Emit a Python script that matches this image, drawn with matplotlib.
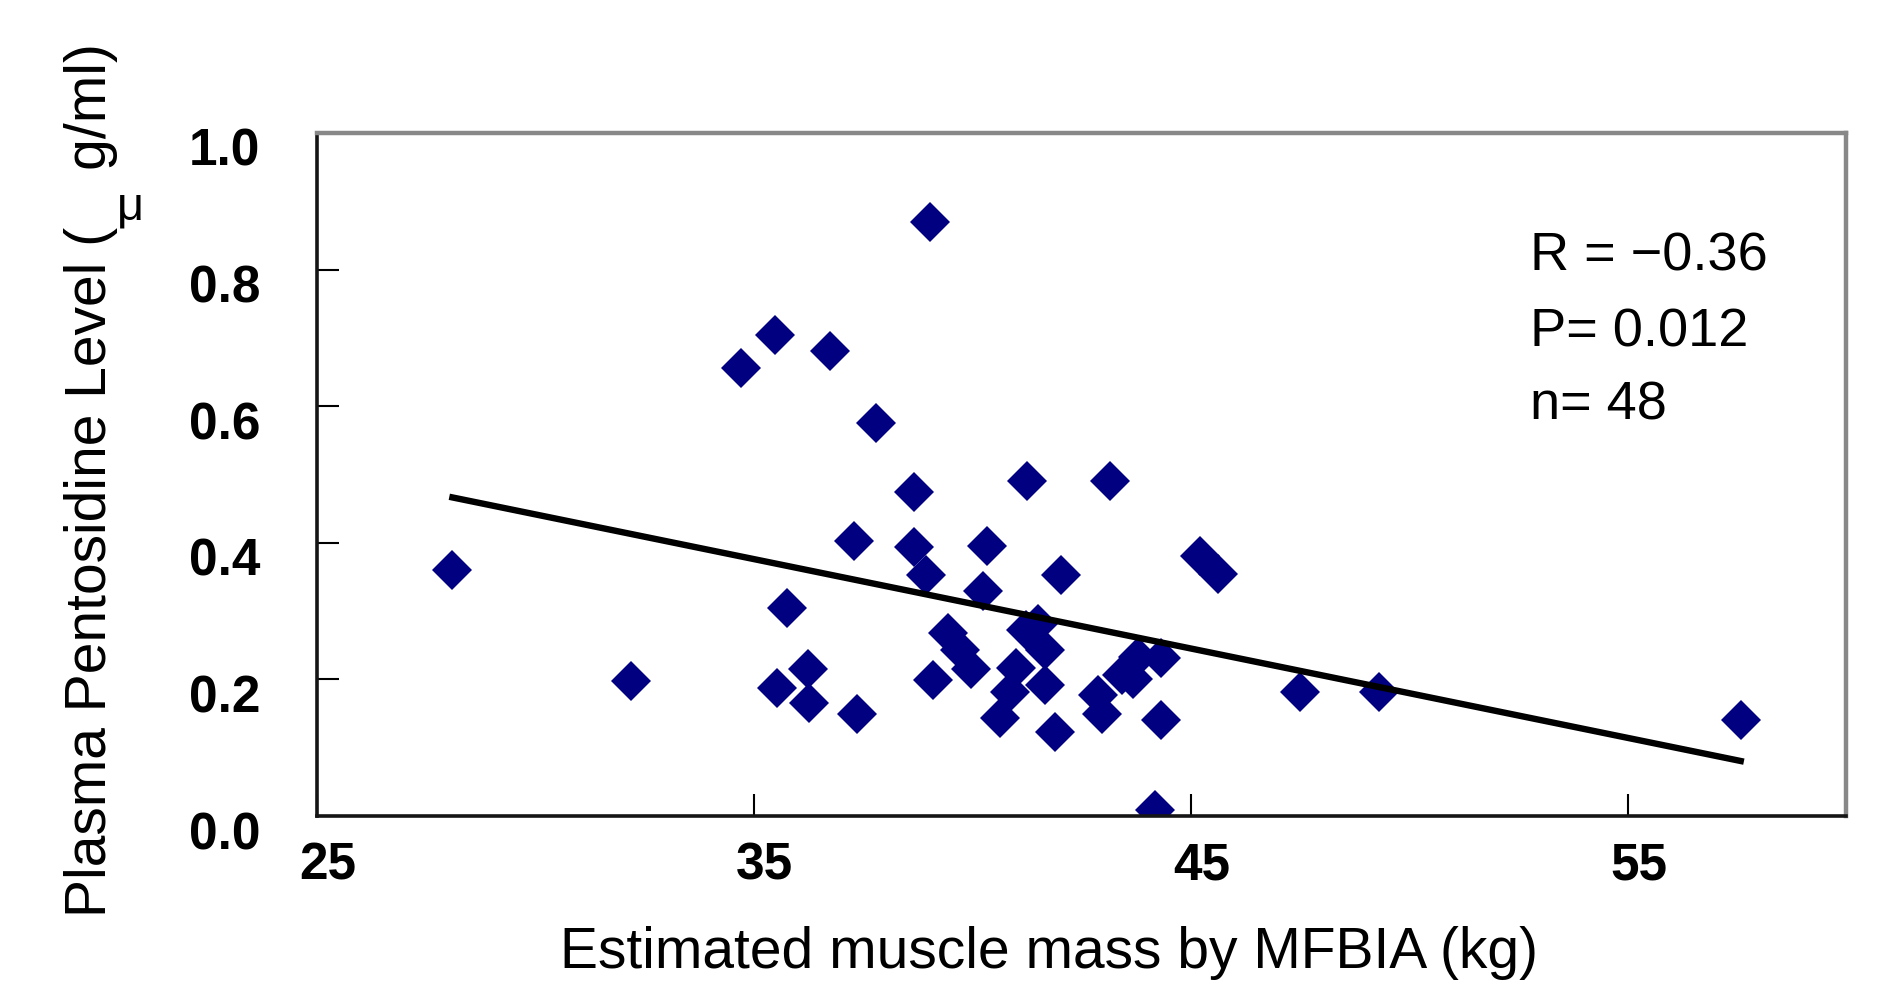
import numpy as np
import matplotlib
matplotlib.use("Agg")
import matplotlib.pyplot as plt
from matplotlib.transforms import ScaledTranslation

plt.rcParams["font.family"] = ["Liberation Sans", "DejaVu Sans"]

# muscle mass (kg) vs plasma pentosidine (ug/ml)
muscle_kg = [
    28.10, 32.19, 34.70, 35.48, 35.76, 35.54, 36.23, 36.26, 36.74, 37.29,
    37.36, 37.79, 38.67, 38.67, 38.95, 39.04, 39.09, 39.45, 39.72, 39.98,
    40.34, 40.24, 41.26, 43.15, 42.02, 41.51, 41.24, 41.66, 41.01, 41.66,
    40.86, 40.63, 41.89, 42.88, 42.96, 43.42, 43.68, 43.80, 44.33, 44.33,
    44.18, 45.21, 45.62, 47.51, 49.31, 57.59,
]
pentosidine = [
    0.360, 0.198, 0.656, 0.704, 0.304, 0.187, 0.215, 0.165, 0.681, 0.402,
    0.149, 0.575, 0.475, 0.394, 0.353, 0.870, 0.199, 0.268, 0.243, 0.215,
    0.395, 0.330, 0.491, 0.491, 0.353, 0.281, 0.272, 0.243, 0.216, 0.192,
    0.182, 0.143, 0.123, 0.177, 0.150, 0.206, 0.200, 0.233, 0.231, 0.141,
    0.009, 0.380, 0.354, 0.181, 0.181, 0.141,
]
stats_lines = ["R = \u22120.36", "P= 0.012", "n= 48"]
x_ticks = [25, 35, 45, 55]
y_ticks = [0.0, 0.2, 0.4, 0.6, 0.8, 1.0]

fig = plt.figure(figsize=(18.92, 9.81), dpi=100)
ax = fig.add_axes([317 / 1892, 1 - 816 / 981, 1529 / 1892, 683 / 981])

ax.plot(muscle_kg, pentosidine, linestyle="none", marker="D", markersize=20.4,
        color="#000080", markeredgewidth=0)

# linear trend line over the data range
xs = np.array(muscle_kg)
slope, intercept = np.polyfit(xs, np.array(pentosidine), 1)
xl = np.array([xs.min(), xs.max()])
ax.plot(xl, slope * xl + intercept, color="black", linewidth=4.6)

ax.set_xlim(25, 60)
ax.set_ylim(0, 1.0)
ax.set_xticks(x_ticks)
ax.set_yticks(y_ticks)
ax.set_yticklabels([f"{v:.1f}" for v in y_ticks])
ax.tick_params(axis="both", direction="in", length=16, width=1.5, colors="black",
               labelsize=37)
ax.tick_params(axis="y", pad=41)
ax.tick_params(axis="x", pad=18)

for lab in ax.get_yticklabels():
    lab.set_fontweight("bold")
    lab.set_transform(lab.get_transform() + ScaledTranslation(0, -0.14, fig.dpi_scale_trans))
for lab in ax.get_xticklabels():
    lab.set_fontweight("bold")
    lab.set_transform(lab.get_transform() + ScaledTranslation(0.11, 0, fig.dpi_scale_trans))

for side in ("left", "bottom"):
    ax.spines[side].set_color("#151515")
    ax.spines[side].set_linewidth(2.6)
for side in ("top", "right"):
    ax.spines[side].set_color("#888888")
    ax.spines[side].set_linewidth(3.2)

ax.set_xlabel("Estimated muscle mass by MFBIA (kg)", fontsize=41, va="center")
ax.xaxis.set_label_coords(0.479, -0.20)
ax.set_ylabel("Plasma Pentosidine Level (\u2003g/ml)", fontsize=41, va="center")
ax.yaxis.set_label_coords(-0.148, 0.492)
fig.text(130 / 1892, 1 - 208 / 981, "\u03bc", fontsize=34, ha="center", va="center")

for txt, yy in zip(stats_lines, [0.799, 0.688, 0.581]):
    ax.text(52.77, yy, txt, fontsize=39, ha="left", va="baseline")

fig.savefig("out.png", dpi=100)
